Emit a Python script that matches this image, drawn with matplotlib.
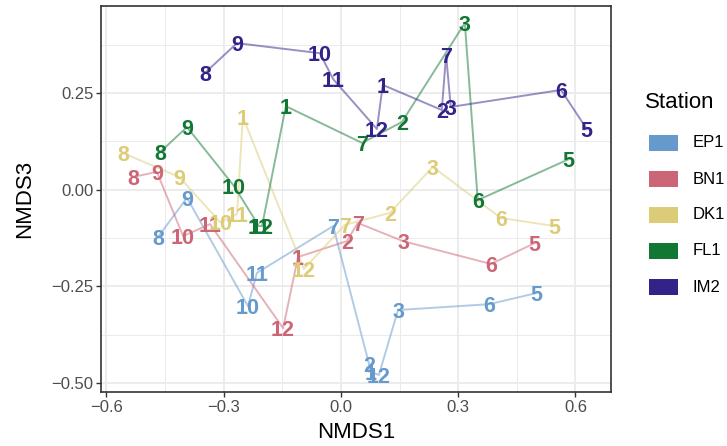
import matplotlib.pyplot as plt
import numpy as np
from matplotlib.patches import Rectangle

plt.rcParams["font.family"] = ["Liberation Sans", "DejaVu Sans"]

# sampling months (no April) and NMDS scores per station
months = [1, 2, 3, 5, 6, 7, 8, 9, 10, 11, 12]
stations = ["EP1", "BN1", "DK1", "FL1", "IM2"]
colors = ["#6699CC", "#CC6677", "#DDCC77", "#117733", "#332288"]

ep1_x = [0.077, 0.072, 0.146, 0.501, 0.379, -0.020, -0.468, -0.394, -0.238, -0.215, 0.097]
ep1_y = [-0.471, -0.451, -0.311, -0.267, -0.296, -0.094, -0.122, -0.021, -0.301, -0.215, -0.479]
bn1_x = [-0.110, 0.015, 0.159, 0.496, 0.384, 0.043, -0.532, -0.471, -0.404, -0.335, -0.148]
bn1_y = [-0.174, -0.133, -0.133, -0.138, -0.192, -0.086, 0.033, 0.046, -0.120, -0.089, -0.358]
dk1_x = [-0.251, 0.125, 0.235, 0.547, 0.409, 0.010, -0.558, -0.414, -0.309, -0.266, -0.095]
dk1_y = [0.188, -0.060, 0.059, -0.094, -0.073, -0.091, 0.095, 0.033, -0.084, -0.063, -0.205]
fl1_x = [-0.141, 0.156, 0.317, 0.583, 0.350, 0.054, -0.463, -0.394, -0.274, -0.210, -0.202]
fl1_y = [0.216, 0.175, 0.431, 0.079, -0.027, 0.121, 0.097, 0.162, 0.010, -0.094, -0.094]
im2_x = [0.107, 0.258, 0.281, 0.629, 0.563, 0.269, -0.348, -0.266, -0.054, -0.020, 0.092]
im2_y = [0.271, 0.206, 0.214, 0.157, 0.258, 0.348, 0.302, 0.379, 0.353, 0.286, 0.157]

xs = [ep1_x, bn1_x, dk1_x, fl1_x, im2_x]
ys = [ep1_y, bn1_y, dk1_y, fl1_y, im2_y]

W, H = 727, 446
fig = plt.figure(figsize=(W / 100, H / 100), dpi=100)
ax = fig.add_axes([101 / W, 1 - 392 / H, 510 / W, 386 / H])

# lines joined in order of NMDS1 (like geom_line)
for x, y, c in zip(xs, ys, colors):
    o = np.argsort(x)
    ax.plot(np.array(x)[o], np.array(y)[o], color=c, alpha=0.5, lw=1.4, zorder=2)

for x, y, c in zip(xs, ys, colors):
    for m, xi, yi in zip(months, x, y):
        ax.text(xi, yi, str(m), color=c, fontsize=15.5, fontweight="bold",
                ha="center", va="center_baseline", zorder=3)

ax.set_xlim(-0.614, 0.691)
ax.set_ylim(-0.523, 0.475)
ax.set_xticks([-0.6, -0.3, 0.0, 0.3, 0.6])
ax.set_xticklabels(["\u22120.6", "\u22120.3", "0.0", "0.3", "0.6"])
ax.set_yticks([-0.5, -0.25, 0.0, 0.25])
ax.set_yticklabels(["\u22120.50", "\u22120.25", "0.00", "0.25"])
ax.set_xticks([-0.45, -0.15, 0.15, 0.45], minor=True)
ax.set_yticks([-0.375, -0.125, 0.125, 0.375], minor=True)
ax.grid(which="major", color="#EBEBEB", lw=1.3, zorder=0)
ax.grid(which="minor", color="#EBEBEB", lw=0.7, zorder=0)
ax.set_axisbelow(True)
ax.tick_params(which="major", length=3.5, width=1.0, color="#333333",
               labelsize=12, labelcolor="#4D4D4D", pad=2)
ax.tick_params(which="minor", length=0)
for s in ax.spines.values():
    s.set_color("#333333")
    s.set_linewidth(1.2)

fig.text(356 / W, 1 - 433 / H, "NMDS1", fontsize=16, ha="center", va="center")
fig.text(25 / W, 1 - 199 / H, "NMDS3", fontsize=16, ha="center", va="center",
         rotation=90)

# legend
fig.text(645 / W, 1 - 103 / H, "Station", fontsize=16, ha="left", va="center")
for i, (st, c) in enumerate(zip(stations, colors)):
    yc = 143 + 36 * i
    fig.add_artist(Rectangle((649 / W, 1 - (yc + 8) / H), 29 / W, 16 / H,
                             transform=fig.transFigure, facecolor=c,
                             edgecolor="none"))
    fig.text(693 / W, 1 - yc / H, st, fontsize=12, ha="left", va="center")

fig.savefig("out.png", dpi=100)
